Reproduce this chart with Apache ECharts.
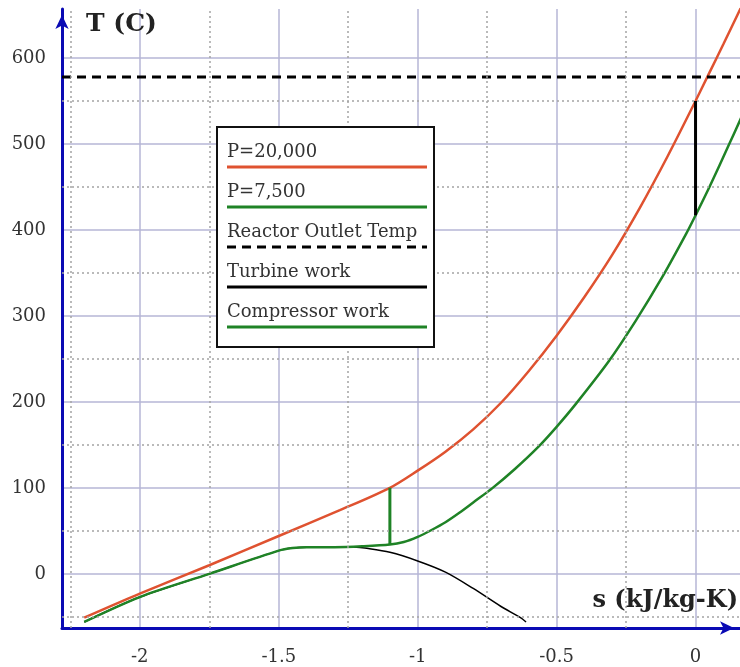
<!DOCTYPE html>
<html>
<head>
<meta charset="utf-8">
<script src="https://cdn.jsdelivr.net/npm/echarts@6/dist/echarts.min.js"></script>
<style>
  html, body { margin: 0; padding: 0; background: #fff; }
  #main { width: 740px; height: 667px; }
</style>
</head>
<body>
<div id="main"></div>
<script>
// T-s diagram, entropy s (kJ/kg-K) against temperature T (C)
var highS = [-2.2, -2.0, -1.75, -1.5, -1.28, -1.1, -1.0, -0.9, -0.8, -0.7, -0.6, -0.5, -0.4, -0.3, -0.2, -0.1, 0, 0.05, 0.1, 0.17];
var highT = [-51, -23, 10, 44, 74, 100, 120, 142, 168, 199, 236, 277, 322, 371, 426, 486, 550, 583, 616, 663];

var lowS = [-2.2, -2.0, -1.75, -1.5, -1.45, -1.4, -1.3, -1.2, -1.1, -1.05, -1.0, -0.95, -0.9, -0.85, -0.8, -0.73, -0.65, -0.565, -0.5, -0.43, -0.313, -0.216, -0.12, -0.033, 0, 0.05, 0.12, 0.165];
var lowT = [-56, -27, 0, 27, 30, 31, 31, 32, 34, 37, 43, 51, 60, 71, 83, 100, 122, 148, 171, 198, 247, 294, 345, 396, 417, 450, 499, 531];

// saturation dome
var domeS = [-2.2, -2.0, -1.75, -1.5, -1.45, -1.4, -1.3, -1.22, -1.19, -1.1, -1.0, -0.9, -0.8, -0.7, -0.63, -0.61];
var domeT = [-56, -27, 0, 27, 30, 31, 31, 31, 30, 25, 15, 2, -17, -38, -51, -56];

var turbineS = [0, 0];
var turbineT = [417, 550];
var compressorS = [-1.1, -1.1];
var compressorT = [34, 100];
var reactorTemp = 578;

var sRange = [-2.28, 0.16];
var tRange = [-63, 657];

// dotted minor grid
var minorS = [-2.25, -1.75, -1.25, -0.75, -0.25];
var minorT = [-50, 50, 150, 250, 350, 450, 550];

var names = ['P=20,000', 'P=7,500', 'Reactor Outlet Temp', 'Turbine work', 'Compressor work'];

var RED = '#df5230', GREEN = '#1f8326', BLUE = '#0a0ab4';
var FONT = 'DejaVu Serif';

function zip(xs, ys) {
  return xs.map(function (x, i) { return [x, ys[i]]; });
}

var chart = echarts.init(document.getElementById('main'));

var legendLines = [
  { color: RED, dash: null },
  { color: GREEN, dash: null },
  { color: '#000', dash: [9, 6] },
  { color: '#000', dash: null },
  { color: GREEN, dash: null }
];
var graphics = [{
  type: 'rect', z: 100,
  shape: { x: 217, y: 127, width: 217, height: 220 },
  style: { fill: '#fff', stroke: '#111', lineWidth: 2 }
}];
names.forEach(function (n, i) {
  var ly = 167 + 40 * i;
  graphics.push({
    type: 'text', z: 101, x: 227, y: ly - 15,
    style: { text: n, fontFamily: FONT, fontSize: 18, fill: '#333', verticalAlign: 'middle' }
  });
  graphics.push({
    type: 'line', z: 101,
    shape: { x1: 227, y1: ly, x2: 427, y2: ly },
    style: { stroke: legendLines[i].color, lineWidth: 3, lineDash: legendLines[i].dash }
  });
});

var option = {
  backgroundColor: '#fff',
  animation: false,
  title: [
    { text: 'T (C)', left: 86, top: 12, padding: 0,
      textStyle: { fontFamily: FONT, fontSize: 25, fontWeight: 'bold', color: '#222' } },
    { text: 's (kJ/kg-K)', right: 2, top: 589, padding: 0,
      textStyle: { fontFamily: FONT, fontSize: 24, fontWeight: 'bold', color: '#222' } }
  ],
  grid: { left: 62, right: 0, top: 9, bottom: 39 },
  xAxis: {
    type: 'value', min: sRange[0], max: sRange[1],
    minInterval: 0.5, maxInterval: 0.5,
    axisLine: { onZero: false, lineStyle: { color: BLUE, width: 3 },
      symbol: ['none', 'arrow'], symbolSize: [10, 14], symbolOffset: [0, -6] },
    axisTick: { show: false },
    axisLabel: { showMinLabel: false, showMaxLabel: false, margin: 20,
      fontFamily: FONT, fontSize: 18, color: '#333' },
    splitLine: { show: true, showMinLine: false, showMaxLine: false,
      lineStyle: { color: '#b6b6d6', width: 1.5 } }
  },
  yAxis: {
    type: 'value', min: tRange[0], max: tRange[1],
    minInterval: 100, maxInterval: 100,
    axisLine: { show: true, onZero: false, lineStyle: { color: BLUE, width: 3 },
      symbol: ['none', 'arrow'], symbolSize: [10, 14], symbolOffset: [0, -6] },
    axisTick: { show: false },
    axisLabel: { showMinLabel: false, showMaxLabel: false, margin: 16,
      fontFamily: FONT, fontSize: 18, color: '#333' },
    splitLine: { show: true, showMinLine: false, showMaxLine: false,
      lineStyle: { color: '#b6b6d6', width: 1.5 } }
  },
  graphic: graphics,
  series: [
    {
      name: 'minor grid', type: 'line', data: [], silent: true,
      markLine: {
        silent: true, symbol: 'none', animation: false,
        label: { show: false },
        lineStyle: { color: '#a4a4a4', type: [2, 3], width: 1.5 },
        data: minorS.map(function (v) { return { xAxis: v }; })
          .concat(minorT.map(function (v) { return { yAxis: v }; }))
      }
    },
    {
      name: 'dome', type: 'line', data: zip(domeS, domeT), symbol: 'none',
      smooth: 0.3, lineStyle: { color: '#000', width: 1.5 }
    },
    {
      name: names[0], type: 'line', data: zip(highS, highT), symbol: 'none',
      smooth: 0.3, lineStyle: { color: RED, width: 2.5 }
    },
    {
      name: names[1], type: 'line', data: zip(lowS, lowT), symbol: 'none',
      smooth: 0.3, lineStyle: { color: GREEN, width: 2.5 }
    },
    {
      name: names[2], type: 'line', data: zip(sRange, [reactorTemp, reactorTemp]), symbol: 'none',
      lineStyle: { color: '#000', width: 3, type: [9, 6] }
    },
    {
      name: names[3], type: 'line', data: zip(turbineS, turbineT), symbol: 'none',
      lineStyle: { color: '#000', width: 3 }
    },
    {
      name: names[4], type: 'line', data: zip(compressorS, compressorT), symbol: 'none',
      lineStyle: { color: GREEN, width: 3 }
    }
  ]
};

chart.setOption(option);
</script>
</body>
</html>
